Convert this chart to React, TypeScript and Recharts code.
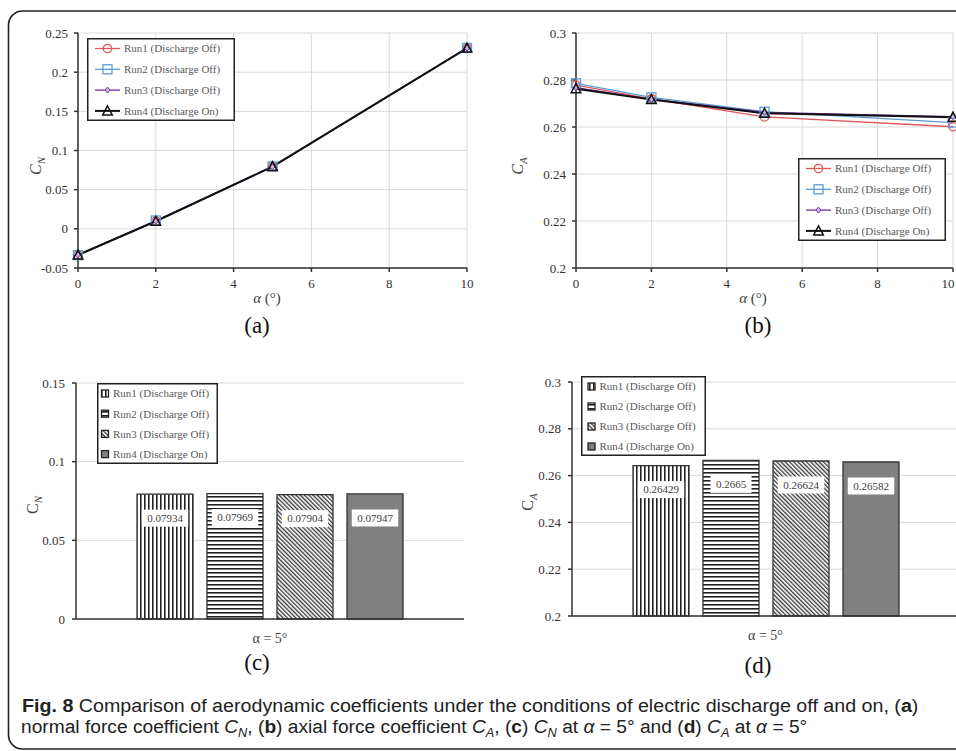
import React from "react";
import {
  LineChart,
  Line,
  BarChart,
  Bar,
  XAxis,
  YAxis,
  CartesianGrid,
  Legend,
  LabelList,
} from "recharts";

// angle of attack (deg)
const alpha = [0, 2, 5, 10];

// normal force coefficient C_N, panel (a)
const cnRun1 = [-0.0332, 0.0098, 0.07934, 0.2305];
const cnRun2 = [-0.0336, 0.0106, 0.07969, 0.2309];
const cnRun3 = [-0.0333, 0.0099, 0.07904, 0.2306];
const cnRun4 = [-0.0334, 0.0097, 0.07947, 0.2307];

// axial force coefficient C_A, panel (b)
const caRun1 = [0.2778, 0.272, 0.26429, 0.2601];
const caRun2 = [0.2786, 0.2726, 0.2665, 0.2619];
const caRun3 = [0.2768, 0.2718, 0.26624, 0.2644];
const caRun4 = [0.2763, 0.2717, 0.26582, 0.2642];

// bar panels at alpha = 5
const barCategory = ["α = 5°"];
const cnAt5 = [0.07934, 0.07969, 0.07904, 0.07947];
const caAt5 = [0.26429, 0.2665, 0.26624, 0.26582];

const runNames = [
  "Run1 (Discharge Off)",
  "Run2 (Discharge Off)",
  "Run3 (Discharge Off)",
  "Run4 (Discharge On)",
];

const alphaTicks = [0, 2, 4, 6, 8, 10];
const cnTicks = [-0.05, 0, 0.05, 0.1, 0.15, 0.2, 0.25];
const caTicks = [0.2, 0.22, 0.24, 0.26, 0.28, 0.3];
const cnBarTicks = [0, 0.05, 0.1, 0.15];

const SERIF = "'Liberation Serif', 'Times New Roman', serif";
const CAP = "'Liberation Sans', Arial, sans-serif";
const GRID = "#d9d9d9";
const AXIS = "#333";

const keys = ["r1", "r2", "r3", "r4"];
const lineStyles = [
  { kind: "circle", color: "#e0575b", width: 1.3 },
  { kind: "square", color: "#5b9bd5", width: 1.3 },
  { kind: "diamond", color: "#7030a0", width: 1.3 },
  { kind: "triangle", color: "#111", width: 2 },
];
const barFills = ["url(#pVert)", "url(#pHoriz)", "url(#pDiag)", "#808080"];

const cnRows = alpha.map((a, i) => ({
  alpha: a,
  r1: cnRun1[i],
  r2: cnRun2[i],
  r3: cnRun3[i],
  r4: cnRun4[i],
}));
const caRows = alpha.map((a, i) => ({
  alpha: a,
  r1: caRun1[i],
  r2: caRun2[i],
  r3: caRun3[i],
  r4: caRun4[i],
}));
const cnBarRows = barCategory.map((name) => ({
  name,
  r1: cnAt5[0],
  r2: cnAt5[1],
  r3: cnAt5[2],
  r4: cnAt5[3],
}));
const caBarRows = barCategory.map((name) => ({
  name,
  r1: caAt5[0],
  r2: caAt5[1],
  r3: caAt5[2],
  r4: caAt5[3],
}));

// serif tick text (the default tick ignores the font family here)
function TickText(props: any) {
  const { x, y, payload, textAnchor, verticalAnchor, fontSize = 13, fill = "#595959" } = props;
  const dy = verticalAnchor === "start" ? "0.71em" : verticalAnchor === "end" ? "0" : "0.355em";
  return (
    <text x={x} y={y} dy={dy} textAnchor={textAnchor} fontSize={fontSize} fontFamily={SERIF} fill={fill}>
      {payload.value}
    </text>
  );
}

function Marker({ kind, cx, cy, color }: any) {
  if (kind === "circle")
    return <circle cx={cx} cy={cy} r={4.2} fill="none" stroke={color} strokeWidth={1.3} />;
  if (kind === "square")
    return (
      <rect x={cx - 4.5} y={cy - 4.5} width={9} height={9} fill="none" stroke={color} strokeWidth={1.3} />
    );
  if (kind === "diamond")
    return (
      <path
        d={`M${cx},${cy - 3}L${cx + 2.6},${cy}L${cx},${cy + 3}L${cx - 2.6},${cy}Z`}
        fill="#c9b6de"
        stroke={color}
        strokeWidth={1}
      />
    );
  return (
    <path
      d={`M${cx},${cy - 5}L${cx + 4.8},${cy + 4}L${cx - 4.8},${cy + 4}Z`}
      fill="none"
      stroke={color}
      strokeWidth={1.5}
    />
  );
}

const makeDot = (kind: string, color: string) => (p: any) =>
  <Marker key={`${kind}-${p.index}`} kind={kind} cx={p.cx} cy={p.cy} color={color} />;

function LineLegend() {
  return (
    <svg width={148} height={83} style={{ display: "block" }}>
      <rect x={0.75} y={0.75} width={146.5} height={81.5} fill="#fff" stroke="#222" strokeWidth={1.5} />
      {lineStyles.map((s, i) => {
        const y = 10.5 + i * 20.8;
        return (
          <g key={i}>
            <line x1={8} x2={33} y1={y} y2={y} stroke={s.color} strokeWidth={s.width} />
            <Marker kind={s.kind} cx={20.5} cy={y} color={s.color} />
            <text x={37} y={y} dy="0.35em" fontSize={11} fontFamily={SERIF} fill="#595959">
              {runNames[i]}
            </text>
          </g>
        );
      })}
    </svg>
  );
}

function BarLegend({ w, h, mx, step }: any) {
  return (
    <svg width={w} height={h} style={{ display: "block" }}>
      <rect x={0.75} y={0.75} width={w - 1.5} height={h - 1.5} fill="#fff" stroke="#222" strokeWidth={1.5} />
      {barFills.map((f, i) => {
        const y = 10.5 + i * step;
        return (
          <g key={i}>
            <rect x={mx - 3.5} y={y - 3.5} width={7} height={7} fill={f} stroke="#222" strokeWidth={1.3} />
            <text x={mx + 8} y={y} dy="0.35em" fontSize={11} fontFamily={SERIF} fill="#595959">
              {runNames[i]}
            </text>
          </g>
        );
      })}
    </svg>
  );
}

function ValueTag(props: any) {
  const { x, y, width, value } = props;
  const cx = x + width / 2;
  const cy = y + 24;
  const txt = String(value);
  const w = txt.length * 5.5 + 8;
  return (
    <g>
      <rect x={cx - w / 2} y={cy - 8.5} width={w} height={17} fill="#fff" />
      <text x={cx} y={cy} dy="0.35em" textAnchor="middle" fontSize={11} fontFamily={SERIF} fill="#404040">
        {txt}
      </text>
    </g>
  );
}

function CoefLines({ rows, ticks, domain, legendPos, width, margin }: any) {
  return (
    <LineChart width={width} height={310} data={rows} margin={margin}>
      <CartesianGrid stroke={GRID} strokeWidth={1} />
      <XAxis
        dataKey="alpha"
        type="number"
        domain={[0, 10]}
        ticks={alphaTicks}
        height={30}
        tick={(p: any) => <TickText {...p} />}
        tickSize={4}
        tickMargin={7}
        stroke={AXIS}
        strokeWidth={1.5}
      />
      <YAxis
        type="number"
        domain={domain}
        ticks={ticks}
        width={50}
        tick={(p: any) => <TickText {...p} />}
        tickSize={4}
        tickMargin={6}
        stroke={AXIS}
        strokeWidth={1.5}
        allowDataOverflow
      />
      {keys.map((k, i) => (
        <Line
          key={k}
          dataKey={k}
          stroke={lineStyles[i].color}
          strokeWidth={lineStyles[i].width}
          dot={makeDot(lineStyles[i].kind, lineStyles[i].color)}
          isAnimationActive={false}
        />
      ))}
      <Legend
        layout="horizontal"
        align="center"
        verticalAlign="middle"
        wrapperStyle={{ left: legendPos[0], top: legendPos[1], width: 148, height: 83 }}
        content={() => <LineLegend />}
      />
    </LineChart>
  );
}

function CoefBars({ rows, ticks, domain, legend, width, margin }: any) {
  return (
    <BarChart width={width} height={310} data={rows} margin={margin} barGap={14}>
      <CartesianGrid stroke={GRID} vertical={false} />
      <XAxis
        dataKey="name"
        height={30}
        tick={(p: any) => <TickText {...p} fontSize={14} fill="#404040" />}
        tickLine={false}
        tickSize={0}
        tickMargin={14}
        stroke={AXIS}
        strokeWidth={1.5}
      />
      <YAxis
        type="number"
        domain={domain}
        ticks={ticks}
        width={50}
        tick={(p: any) => <TickText {...p} />}
        tickSize={4}
        tickMargin={7}
        stroke={AXIS}
        strokeWidth={1.5}
      />
      {keys.map((k, i) => (
        <Bar
          key={k}
          dataKey={k}
          barSize={56}
          fill={barFills[i]}
          stroke="#333"
          strokeWidth={1.3}
          isAnimationActive={false}
        >
          <LabelList dataKey={k} content={ValueTag} />
        </Bar>
      ))}
      <Legend
        layout="horizontal"
        align="center"
        verticalAlign="middle"
        wrapperStyle={{ left: legend.left, top: legend.top, width: legend.w, height: legend.h }}
        content={() => <BarLegend w={legend.w} h={legend.h} mx={legend.mx} step={legend.step} />}
      />
    </BarChart>
  );
}

function CTitle({ x, y, sub, italic }: any) {
  return (
    <text
      transform={`translate(${x},${y}) rotate(-90)`}
      textAnchor="middle"
      dy="0.35em"
      fontFamily={SERIF}
      fontSize={16}
      fill="#404040"
    >
      <tspan fontStyle={italic ? "italic" : "normal"}>C</tspan>
      <tspan fontStyle="italic" fontSize={11} dy={4}>
        {sub}
      </tspan>
    </text>
  );
}

function AlphaTitle({ x, y }: any) {
  return (
    <text x={x} y={y} dy="0.35em" textAnchor="middle" fontFamily={SERIF} fontSize={15} fill="#404040">
      <tspan fontStyle="italic">α</tspan> (°)
    </text>
  );
}

function PanelTag({ x, y, label }: any) {
  return (
    <text x={x} y={y} dy="0.35em" textAnchor="middle" fontFamily={SERIF} fontSize={23} fill="#111">
      {label}
    </text>
  );
}

// caption line squeezed horizontally to the width it has in the figure
function FitLine({ x, y, width, children }: any) {
  const ref = React.useRef<SVGTextElement>(null);
  const [s, setS] = React.useState(0.9);
  React.useLayoutEffect(() => {
    if (ref.current) {
      const w = ref.current.getBBox().width;
      if (w > 0) setS(width / w);
    }
  }, [width]);
  return (
    <g transform={`translate(${x},${y}) scale(${s},1)`}>
      <text ref={ref} x={0} y={0} fontFamily={CAP} fontSize={18} fill="#222">
        {children}
      </text>
    </g>
  );
}

function Sub({ c }: any) {
  return (
    <>
      <tspan fontStyle="italic">C</tspan>
      <tspan fontStyle="italic" fontSize={12} dy={4}>
        {c}
      </tspan>
    </>
  );
}

export default function App() {
  return (
    <div
      style={{
        position: "fixed",
        left: 0,
        top: 0,
        width: 956,
        height: 751,
        overflow: "hidden",
        background: "#fff",
        fontFamily: SERIF,
      }}
    >
      <svg width={0} height={0} style={{ position: "absolute" }}>
        <defs>
          <pattern id="pVert" width={4} height={4} patternUnits="userSpaceOnUse">
            <rect width={4} height={4} fill="#fff" />
            <rect width={1.6} height={4} fill="#222" />
          </pattern>
          <pattern id="pHoriz" width={4} height={4} patternUnits="userSpaceOnUse">
            <rect width={4} height={4} fill="#fff" />
            <rect width={4} height={1.6} fill="#222" />
          </pattern>
          <pattern
            id="pDiag"
            width={3}
            height={3}
            patternUnits="userSpaceOnUse"
            patternTransform="rotate(-45)"
          >
            <rect width={3} height={3} fill="#fff" />
            <rect width={1.3} height={3} fill="#333" />
          </pattern>
        </defs>
      </svg>

      <div style={{ position: "absolute", left: 0, top: 0 }}>
        <CoefLines
          rows={cnRows}
          ticks={cnTicks}
          domain={[-0.05, 0.25]}
          legendPos={[87, 38]}
          width={480}
          margin={{ top: 33, right: 13, bottom: 12, left: 28 }}
        />
      </div>
      <div style={{ position: "absolute", left: 480, top: 0 }}>
        <CoefLines
          rows={caRows}
          ticks={caTicks}
          domain={[0.2, 0.3]}
          legendPos={[318, 158]}
          width={476}
          margin={{ top: 33, right: 3, bottom: 12, left: 46 }}
        />
      </div>
      <div style={{ position: "absolute", left: 0, top: 340 }}>
        <CoefBars
          rows={cnBarRows}
          ticks={cnBarTicks}
          domain={[0, 0.15]}
          width={480}
          margin={{ top: 43, right: 16, bottom: 1, left: 26 }}
          legend={{ left: 97, top: 43, w: 121, h: 81, mx: 8, step: 20.2 }}
        />
      </div>
      <div style={{ position: "absolute", left: 480, top: 340 }}>
        <CoefBars
          rows={caBarRows}
          ticks={caTicks}
          domain={[0.2, 0.3]}
          width={482}
          margin={{ top: 42, right: 3, bottom: 4, left: 42 }}
          legend={{ left: 101, top: 36, w: 125, h: 80, mx: 10.5, step: 20 }}
        />
      </div>

      <svg
        width={956}
        height={751}
        style={{ position: "absolute", left: 0, top: 0, pointerEvents: "none" }}
      >
        <rect x={8.5} y={11} width={1000} height={738} rx={14} fill="none" stroke="#222" strokeWidth={1.6} />

        <CTitle x={35} y={166} sub="N" italic />
        <CTitle x={517} y={166} sub="A" italic />
        <CTitle x={32} y={505} sub="N" />
        <CTitle x={527} y={502} sub="A" />

        <AlphaTitle x={267} y={298} />
        <AlphaTitle x={753} y={298} />

        <PanelTag x={257} y={325} label="(a)" />
        <PanelTag x={758} y={325} label="(b)" />
        <PanelTag x={257} y={662} label="(c)" />
        <PanelTag x={758} y={665} label="(d)" />

        <FitLine x={22} y={711.7} width={896}>
          <tspan fontWeight="bold">Fig. 8</tspan> Comparison of aerodynamic coefficients under the conditions of
          electric discharge off and on, (<tspan fontWeight="bold">a</tspan>)
        </FitLine>
        <FitLine x={21} y={732.7} width={786}>
          normal force coefficient <Sub c="N" />
          <tspan dy={-4}>, (</tspan>
          <tspan fontWeight="bold">b</tspan>) axial force coefficient <Sub c="A" />
          <tspan dy={-4}>, (</tspan>
          <tspan fontWeight="bold">c</tspan>) <Sub c="N" />
          <tspan dy={-4}> at </tspan>
          <tspan fontStyle="italic">α</tspan> = 5° and (<tspan fontWeight="bold">d</tspan>){" "}
          <Sub c="A" />
          <tspan dy={-4}> at </tspan>
          <tspan fontStyle="italic">α</tspan> = 5°
        </FitLine>
      </svg>
    </div>
  );
}
